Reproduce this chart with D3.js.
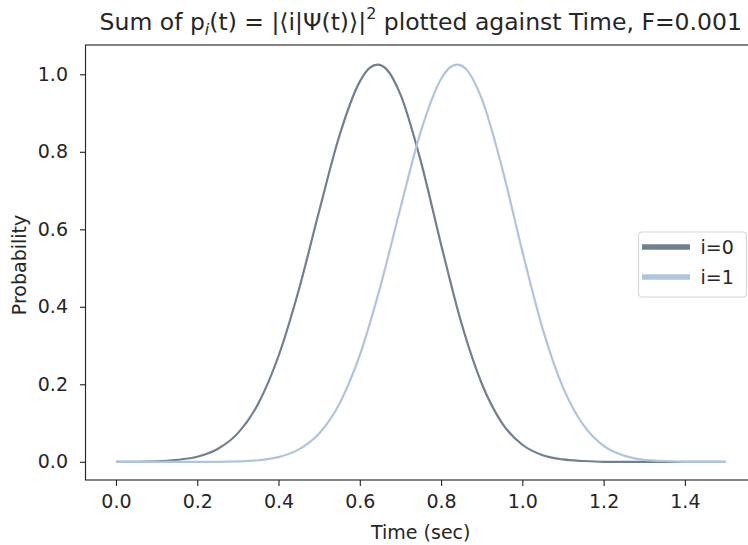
<!DOCTYPE html>
<html>
<head>
<meta charset="utf-8">
<script src="https://cdn.jsdelivr.net/npm/d3@7"></script>
<style>
  body { margin: 0; background: #fff; }
  svg text { font-family: "DejaVu Sans", sans-serif; fill: #262626; }
</style>
</head>
<body>
<svg id="chart" width="748" height="545"></svg>
<script>
//
//    Chart data
//
const seriesNames = ['i=0', 'i=1']
const seriesColours = ['slategray', 'lightsteelblue']

// i=0 : time (sec) and probability
const timeP0 = [0.00, 0.05, 0.10, 0.15, 0.20, 0.25, 0.30, 0.35, 0.40, 0.45, 0.50, 0.55, 0.60, 0.625, 0.644, 0.665, 0.70, 0.75, 0.80, 0.85, 0.90, 0.95, 1.00, 1.05, 1.10, 1.15, 1.20, 1.25, 1.30, 1.35, 1.40, 1.45, 1.50]
const probP0 = [0.000, 0.000, 0.001, 0.005, 0.013, 0.033, 0.074, 0.150, 0.273, 0.444, 0.647, 0.842, 0.981, 1.017, 1.025, 1.014, 0.948, 0.776, 0.561, 0.358, 0.202, 0.100, 0.044, 0.017, 0.006, 0.002, 0.000, 0.000, 0.000, 0.000, 0.000, 0.000, 0.000]

// i=1 : time (sec) and probability
const timeP1 = [0.00, 0.05, 0.10, 0.15, 0.20, 0.25, 0.30, 0.35, 0.40, 0.45, 0.50, 0.55, 0.60, 0.65, 0.70, 0.75, 0.80, 0.82, 0.84, 0.86, 0.90, 0.95, 1.00, 1.05, 1.10, 1.15, 1.20, 1.25, 1.30, 1.35, 1.40, 1.45, 1.50]
const probP1 = [0.000, 0.000, 0.000, 0.000, 0.000, 0.000, 0.001, 0.004, 0.012, 0.032, 0.073, 0.150, 0.275, 0.450, 0.655, 0.852, 0.988, 1.016, 1.025, 1.015, 0.937, 0.759, 0.543, 0.343, 0.192, 0.095, 0.041, 0.016, 0.005, 0.002, 0.000, 0.000, 0.000]

const xTicks = [0.0, 0.2, 0.4, 0.6, 0.8, 1.0, 1.2, 1.4]
const yTicks = [0.0, 0.2, 0.4, 0.6, 0.8, 1.0]

const xLabel = 'Time (sec)'
const yLabel = 'Probability'

//
//    Layout
//
const plot = { left: 85.5, right: 756, top: 45, bottom: 480 }
const fontSize = 19
const titleSize = 23.5

drawChart()

function drawChart () {
  const svg = d3.select('#chart')

  const x = d3.scaleLinear().domain([-0.075, 1.575]).range([plot.left, plot.right])
  const y = d3.scaleLinear().domain([-0.047, 1.0756]).range([plot.bottom, plot.top])

  const series = [
    { name: seriesNames[0], colour: seriesColours[0], points: timeP0.map((t, i) => ({ t: t, p: probP0[i] })) },
    { name: seriesNames[1], colour: seriesColours[1], points: timeP1.map((t, i) => ({ t: t, p: probP1[i] })) }
  ]

  addAxes(svg, x, y)
  addLines(svg, x, y, series)
  addSpines(svg)
  addTitle(svg)
  addLegend(svg, series)
}

function addAxes (svg, x, y) {
  const xAxis = svg.append('g')
    .attr('transform', 'translate(0,' + plot.bottom + ')')
    .call(d3.axisBottom(x).tickValues(xTicks).tickFormat(d3.format('.1f')).tickSize(6).tickSizeOuter(0).tickPadding(9))
  const yAxis = svg.append('g')
    .attr('transform', 'translate(' + plot.left + ',0)')
    .call(d3.axisLeft(y).tickValues(yTicks).tickFormat(d3.format('.1f')).tickSize(5.5).tickSizeOuter(0).tickPadding(12))

  // matplotlib look: no domain path, grey-black ticks
  svg.selectAll('.domain').remove()
  xAxis.selectAll('line').attr('stroke', '#222').attr('stroke-width', 1.1)
  yAxis.selectAll('line').attr('stroke', '#222').attr('stroke-width', 1.1)
  xAxis.selectAll('text').attr('font-size', fontSize).attr('font-family', 'DejaVu Sans')
  yAxis.selectAll('text').attr('font-size', fontSize).attr('font-family', 'DejaVu Sans')

  svg.append('text')
    .attr('x', (plot.left + plot.right) / 2)
    .attr('y', 539)
    .attr('text-anchor', 'middle')
    .attr('font-size', fontSize)
    .text(xLabel)

  svg.append('text')
    .attr('transform', 'translate(26,265) rotate(-90)')
    .attr('text-anchor', 'middle')
    .attr('font-size', fontSize)
    .text(yLabel)
}

function addLines (svg, x, y, series) {
  const line = d3.line()
    .x(d => x(d.t))
    .y(d => y(d.p))
    .curve(d3.curveMonotoneX)

  svg.append('g')
    .selectAll('path')
    .data(series)
    .enter()
    .append('path')
      .attr('d', d => line(d.points))
      .attr('fill', 'none')
      .attr('stroke', d => d.colour)
      .attr('stroke-width', 2.2)
}

function addSpines (svg) {
  svg.append('rect')
    .attr('x', plot.left)
    .attr('y', plot.top)
    .attr('width', plot.right - plot.left)
    .attr('height', plot.bottom - plot.top)
    .attr('fill', 'none')
    .attr('stroke', '#222')
    .attr('stroke-width', 1.1)
}

function addTitle (svg) {
  // Sum of p_i(t) = |<i|Psi(t)>|^2 plotted against Time, F=0.001
  const title = svg.append('text')
    .attr('x', (plot.left + plot.right) / 2)
    .attr('y', 30)
    .attr('text-anchor', 'middle')
    .attr('font-size', titleSize)
  title.append('tspan').text('Sum of p')
  title.append('tspan').attr('font-size', 16).attr('font-style', 'italic').attr('dy', 5).text('i')
  title.append('tspan').attr('dy', -5).text('(t) = |\u27E8i|\u03A8(t)\u27E9|')
  title.append('tspan').attr('font-size', 16).attr('dy', -11).text('2')
  title.append('tspan').attr('dy', 11).text(' plotted against Time, F=0.001')
}

function addLegend (svg, series) {
  const legend = svg.append('g').attr('transform', 'translate(638.5,232)')
  legend.append('rect')
    .attr('width', 108)
    .attr('height', 65)
    .attr('rx', 3.5)
    .attr('fill', '#fff')
    .attr('fill-opacity', 0.8)
    .attr('stroke', '#d6d6d6')
    .attr('stroke-width', 1.1)

  const rows = legend.selectAll('g.row')
    .data(series)
    .enter()
    .append('g')
      .attr('class', 'row')
      .attr('transform', (d, i) => 'translate(0,' + (15 + i * 30) + ')')
  rows.append('line')
    .attr('x1', 3.5)
    .attr('x2', 51.5)
    .attr('stroke', d => d.colour)
    .attr('stroke-width', 5.5)
  rows.append('text')
    .attr('x', 62)
    .attr('dy', '0.36em')
    .attr('font-size', fontSize)
    .text(d => d.name)
}
</script>
</body>
</html>
